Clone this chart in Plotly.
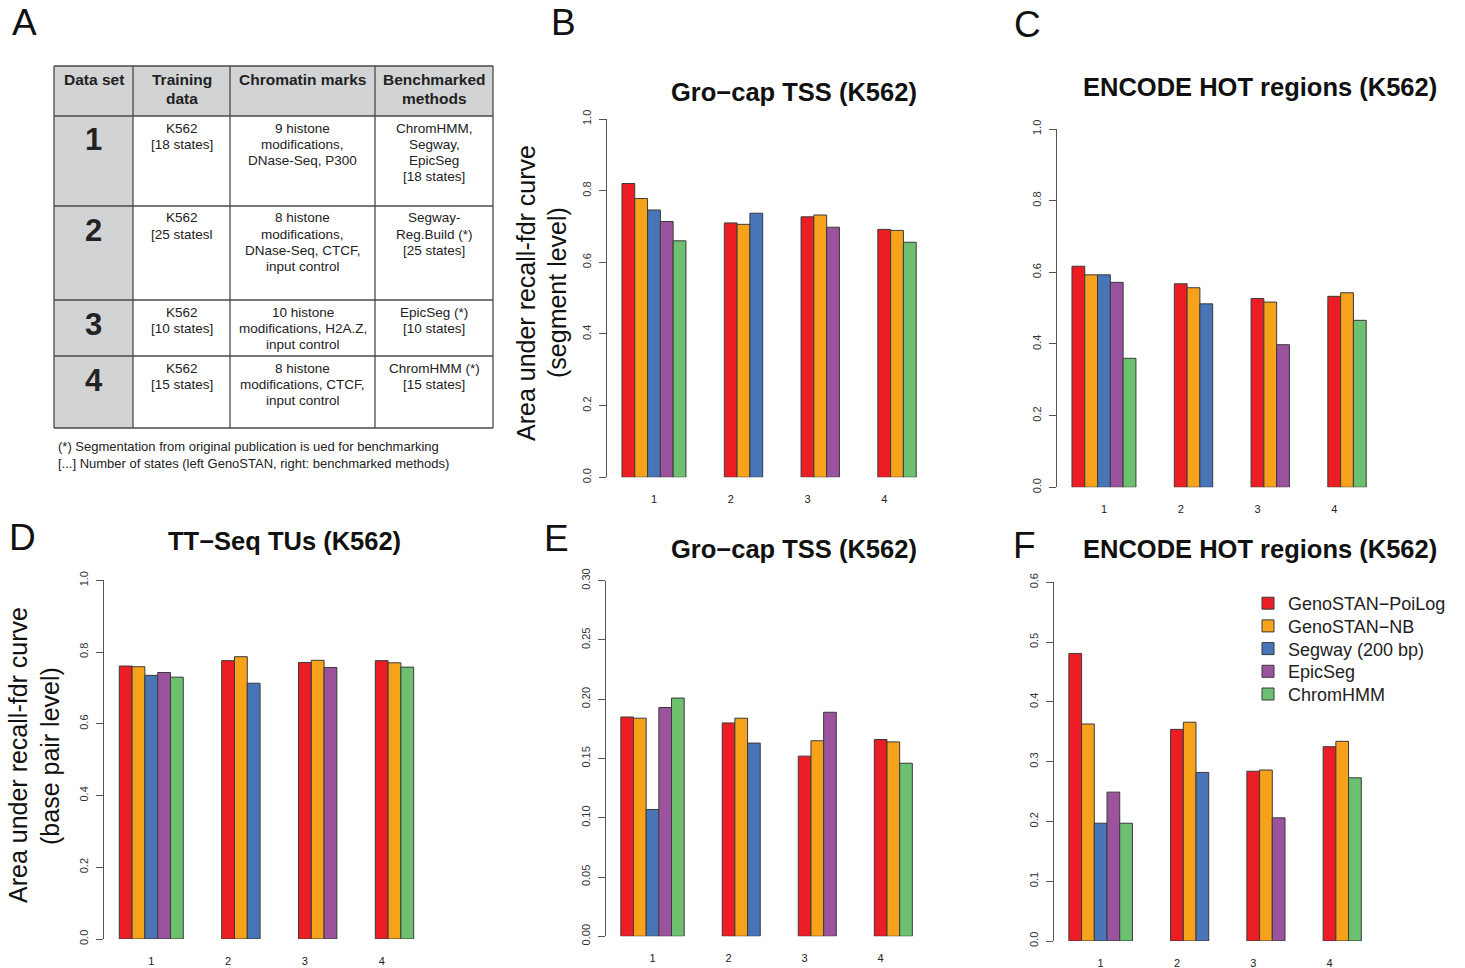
import plotly.graph_objects as go

W, H = 1465, 968
FONT = "Liberation Sans, Arial, Helvetica, sans-serif"

# ---------------- data ----------------
SERIES = ["GenoSTAN\u2212PoiLog", "GenoSTAN\u2212NB", "Segway (200 bp)", "EpicSeg", "ChromHMM"]
COLORS = ["#EC1D25", "#F7A21B", "#4775B8", "#9A539C", "#6CC070"]
GROUP_LABELS = ["1", "2", "3", "4"]

# panel B: Gro-cap TSS, segment level
B_POILOG = [0.820, 0.710, 0.727, 0.692]
B_NB = [0.778, 0.706, 0.732, 0.689]
B_SEGWAY = [0.746, 0.737, None, None]
B_EPICSEG = [0.714, None, 0.698, None]
B_CHROMHMM = [0.660, None, None, 0.656]

# panel C: ENCODE HOT regions, segment level
C_POILOG = [0.617, 0.568, 0.527, 0.533]
C_NB = [0.593, 0.557, 0.517, 0.543]
C_SEGWAY = [0.593, 0.512, None, None]
C_EPICSEG = [0.572, None, 0.398, None]
C_CHROMHMM = [0.360, None, None, 0.466]

# panel D: TT-Seq TUs, base pair level
D_POILOG = [0.761, 0.776, 0.771, 0.776]
D_NB = [0.759, 0.787, 0.777, 0.770]
D_SEGWAY = [0.735, 0.713, None, None]
D_EPICSEG = [0.743, None, 0.757, None]
D_CHROMHMM = [0.730, None, None, 0.758]

# panel E: Gro-cap TSS, base pair level
E_POILOG = [0.185, 0.180, 0.152, 0.166]
E_NB = [0.184, 0.184, 0.165, 0.164]
E_SEGWAY = [0.107, 0.163, None, None]
E_EPICSEG = [0.193, None, 0.189, None]
E_CHROMHMM = [0.201, None, None, 0.146]

# panel F: ENCODE HOT regions, base pair level
F_POILOG = [0.481, 0.354, 0.284, 0.325]
F_NB = [0.363, 0.366, 0.286, 0.334]
F_SEGWAY = [0.197, 0.282, None, None]
F_EPICSEG = [0.249, None, 0.206, None]
F_CHROMHMM = [0.197, None, None, 0.273]

# table (panel A)
TABLE_HEADER = ["Data set", "Training\ndata", "Chromatin marks", "Benchmarked\nmethods"]
DATASETS = ["1", "2", "3", "4"]
TRAINING = ["K562\n[18 states]", "K562\n[25 statesl", "K562\n[10 states]", "K562\n[15 states]"]
MARKS = ["9 histone\nmodifications,\nDNase-Seq, P300",
         "8 histone\nmodifications,\nDNase-Seq, CTCF,\ninput control",
         "10 histone\nmodifications, H2A.Z,\ninput control",
         "8 histone\nmodifications, CTCF,\ninput control"]
METHODS = ["ChromHMM,\nSegway,\nEpicSeg\n[18 states]",
           "Segway-\nReg.Build (*)\n[25 states]",
           "EpicSeg (*)\n[10 states]",
           "ChromHMM (*)\n[15 states]"]
FOOTNOTES = ["(*) Segmentation from original publication is ued for benchmarking",
             "[...] Number of states (left GenoSTAN, right: benchmarked methods)"]

# ---------------- layout helpers ----------------
def px(x):
    return x / W

def py(y):
    return 1 - y / H

GAP = 3                      # empty bar slots between groups
TICK_POS = [2.5, 8.5, 14.5, 20.5]
XRANGE = [-1.17, 24.0]

PANELS = [
    # key, title, values, ymax, tick step, fmt, (left px, right px, bottom px, top px), title pos
    ("B", "Gro\u2212cap TSS (K562)", [B_POILOG, B_NB, B_SEGWAY, B_EPICSEG, B_CHROMHMM],
     1.0, 0.2, ".1f", (607, 929, 477.3, 119), (794, 92)),
    ("C", "ENCODE HOT regions (K562)", [C_POILOG, C_NB, C_SEGWAY, C_EPICSEG, C_CHROMHMM],
     1.0, 0.2, ".1f", (1057, 1379, 487.3, 129), (1260, 87)),
    ("D", "TT\u2212Seq TUs (K562)", [D_POILOG, D_NB, D_SEGWAY, D_EPICSEG, D_CHROMHMM],
     1.0, 0.2, ".1f", (104.3, 426.5, 939, 580.3), (284, 541)),
    ("E", "Gro\u2212cap TSS (K562)", [E_POILOG, E_NB, E_SEGWAY, E_EPICSEG, E_CHROMHMM],
     0.30, 0.05, ".2f", (606, 925, 936.3, 580.7), (794, 549)),
    ("F", "ENCODE HOT regions (K562)", [F_POILOG, F_NB, F_SEGWAY, F_EPICSEG, F_CHROMHMM],
     0.6, 0.1, ".1f", (1054, 1374, 941, 582.3), (1260, 549)),
]

# legend entries (one Plotly legend per entry so the row spacing matches)
LEGEND_X = 1248
LEGEND_FIRST_Y = 603
LEGEND_STEP = 22.7


def bar_positions(values):
    """x centre of each bar: bars of a group are packed, groups separated by GAP slots."""
    pos = [[None] * len(GROUP_LABELS) for _ in values]
    start = 0
    for g in range(len(GROUP_LABELS)):
        present = [s for s in range(len(values)) if values[s][g] is not None]
        for i, s in enumerate(present):
            pos[s][g] = start + i + 0.5
        start += len(present) + GAP
    return pos


fig = go.Figure()
layout_axes = {}
annotations = []
legends = {}

for idx, (key, title, values, ymax, step, fmt, dom, tpos) in enumerate(PANELS):
    n = idx + 1
    xa = "x" if n == 1 else f"x{n}"
    ya = "y" if n == 1 else f"y{n}"
    pos = bar_positions(values)
    for s, name in enumerate(SERIES):
        xs = [pos[s][g] for g in range(len(GROUP_LABELS)) if values[s][g] is not None]
        ys = [values[s][g] for g in range(len(GROUP_LABELS)) if values[s][g] is not None]
        lg = "legend" if s == 0 else f"legend{s + 1}"
        fig.add_trace(go.Bar(
            x=xs, y=ys, width=1.0, name=name, xaxis=xa, yaxis=ya,
            marker=dict(color=COLORS[s], line=dict(color="#3a3a3a", width=1)),
            showlegend=(key == "F"), legend=lg,
        ))
    l, r, b, t = dom
    nt = int(round(ymax / step))
    layout_axes["xaxis" if n == 1 else f"xaxis{n}"] = dict(
        domain=[px(l), px(r)], anchor=ya, range=XRANGE,
        showline=False, showgrid=False, zeroline=False, ticks="",
        tickmode="array", tickvals=TICK_POS, ticktext=GROUP_LABELS,
        tickfont=dict(size=11, color="#222", family=FONT), ticklabelstandoff=14,
        fixedrange=True,
    )
    layout_axes["yaxis" if n == 1 else f"yaxis{n}"] = dict(
        domain=[py(b), py(t)], anchor=xa, range=[0, ymax],
        showline=True, linecolor="#555", linewidth=1,
        showgrid=False, zeroline=False,
        ticks="outside", ticklen=7, tickcolor="#555", tickwidth=1,
        tickmode="array", tickvals=[round(i * step, 4) for i in range(nt + 1)],
        tickformat=fmt, tickangle=-90,
        tickfont=dict(size=11, color="#333", family=FONT), ticklabelstandoff=4,
        fixedrange=True,
    )
    annotations.append(dict(
        text=f"<b>{title}</b>", x=px(tpos[0]), y=py(tpos[1]), xref="paper", yref="paper",
        xanchor="center", yanchor="middle", showarrow=False,
        font=dict(size=25.5, color="#111", family=FONT)))

for s in range(len(SERIES)):
    lg = "legend" if s == 0 else f"legend{s + 1}"
    legends[lg] = dict(x=px(LEGEND_X), y=py(LEGEND_FIRST_Y + s * LEGEND_STEP - 18),
                       xanchor="left", yanchor="top",
                       font=dict(size=18, color="#222", family=FONT),
                       bgcolor="rgba(0,0,0,0)", borderwidth=0,
                       itemclick=False, itemdoubleclick=False)

# panel letters
LETTERS = [("A", 24, 23), ("B", 563, 23), ("C", 1027, 24), ("D", 22, 537), ("E", 556, 538), ("F", 1024, 545)]
for letter, lx, ly in LETTERS:
    annotations.append(dict(text=letter, x=px(lx), y=py(ly), xref="paper", yref="paper",
                            xanchor="center", yanchor="middle", showarrow=False,
                            font=dict(size=37, color="#111", family=FONT)))

# y-axis titles
YTITLES = [("Area under recall-fdr curve", 526, 293), ("(segment level)", 557, 293),
           ("Area under recall-fdr curve", 18, 755), ("(base pair level)", 50, 756)]
for txt, tx, ty in YTITLES:
    annotations.append(dict(text=txt, x=px(tx), y=py(ty), xref="paper", yref="paper",
                            xanchor="center", yanchor="middle", showarrow=False, textangle=-90,
                            font=dict(size=25, color="#111", family=FONT)))

# ---------------- table (panel A) ----------------
COL_EDGES = [54, 133, 230, 375, 493]
ROW_EDGES = [66, 116, 206, 300, 356, 428]
GREY = "#D2D3D5"
LINE = "#4a4a4a"
shapes = []
shapes.append(dict(type="rect", xref="paper", yref="paper", x0=px(COL_EDGES[0]), x1=px(COL_EDGES[-1]),
                   y0=py(ROW_EDGES[1]), y1=py(ROW_EDGES[0]), fillcolor=GREY, line=dict(width=0), layer="below"))
shapes.append(dict(type="rect", xref="paper", yref="paper", x0=px(COL_EDGES[0]), x1=px(COL_EDGES[1]),
                   y0=py(ROW_EDGES[-1]), y1=py(ROW_EDGES[1]), fillcolor=GREY, line=dict(width=0), layer="below"))
for ry in ROW_EDGES:
    shapes.append(dict(type="line", xref="paper", yref="paper", x0=px(COL_EDGES[0]), x1=px(COL_EDGES[-1]),
                       y0=py(ry), y1=py(ry), line=dict(color=LINE, width=1.3)))
for cx in COL_EDGES:
    shapes.append(dict(type="line", xref="paper", yref="paper", x0=px(cx), x1=px(cx),
                       y0=py(ROW_EDGES[0]), y1=py(ROW_EDGES[-1]), line=dict(color=LINE, width=1.3)))

col_centres = [(COL_EDGES[i] + COL_EDGES[i + 1]) / 2 for i in range(4)]

def cell_text(text, cx, top, first_offset, spacing, size, bold=False):
    for i, line in enumerate(text.split("\n")):
        t = f"<b>{line}</b>" if bold else line
        annotations.append(dict(text=t, x=px(cx), y=py(top + first_offset + i * spacing),
                                xref="paper", yref="paper", xanchor="center", yanchor="middle",
                                showarrow=False, font=dict(size=size, color="#222", family=FONT)))

for c, head in enumerate(TABLE_HEADER):
    cell_text(head, col_centres[c], ROW_EDGES[0], 14, 18, 15.5, bold=True)

for r in range(4):
    top = ROW_EDGES[r + 1]
    cell_text(DATASETS[r], col_centres[0], top, 24, 0, 31, bold=True)
    cell_text(TRAINING[r], col_centres[1], top, 12, 16.3, 13.5)
    cell_text(MARKS[r], col_centres[2], top, 12, 16.3, 13.5)
    cell_text(METHODS[r], col_centres[3], top, 12, 16.3, 13.5)

for i, note in enumerate(FOOTNOTES):
    annotations.append(dict(text=note, x=px(56), y=py(446 + 17 * i), xref="paper", yref="paper",
                            xanchor="left", yanchor="middle", showarrow=False,
                            font=dict(size=13, color="#222", family=FONT)))

fig.update_layout(
    template="none",
    width=W, height=H,
    margin=dict(l=0, r=0, t=0, b=0, pad=0),
    paper_bgcolor="white", plot_bgcolor="rgba(0,0,0,0)",
    barmode="overlay",
    font=dict(family=FONT, color="#222"),
    showlegend=True,
    annotations=annotations,
    shapes=shapes,
    **legends,
    **layout_axes,
)

fig.write_html("out.html", config={"displayModeBar": False})
